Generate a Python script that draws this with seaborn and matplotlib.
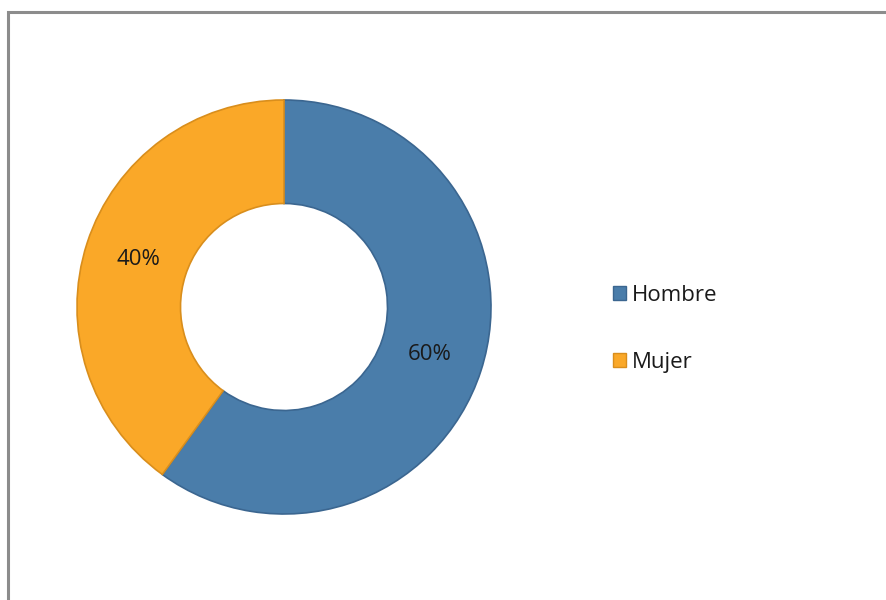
import matplotlib
matplotlib.use("Agg")
import matplotlib.pyplot as plt
from matplotlib.patches import Rectangle
import seaborn as sns

categories = ["Hombre", "Mujer"]
shares = [60, 40]
colors = ["#4A7DAA", "#FAA828"]
edge_colors = ["#3B6690", "#D98E1C"]

sns.set_theme(style="white")
plt.rcParams["font.family"] = ["Open Sans", "DejaVu Sans"]

W, H = 887, 600
fig = plt.figure(figsize=(W / 100, H / 100), dpi=100)
fig.patch.set_facecolor("white")

# Outer frame (top and left edges visible; right/bottom run past the canvas)
fig.patches.append(Rectangle((8.5 / W, -0.05), 1.2, 1 - 11.5 / H + 0.05,
                             transform=fig.transFigure, fill=False,
                             edgecolor="#8C8C8C", linewidth=2.2))

cx, cy, r = 284, 307, 207
ax = fig.add_axes([(cx - r) / W, (H - cy - r) / H, 2 * r / W, 2 * r / H])

wedges, texts, autotexts = ax.pie(
    shares, colors=colors, startangle=90, counterclock=False, radius=1,
    autopct=lambda p: f"{p:.0f}%", pctdistance=0.74,
    wedgeprops=dict(width=0.5, linewidth=1.2),
    textprops=dict(fontsize=16, color="#1A1A1A"),
)
for w, ec in zip(wedges, edge_colors):
    w.set_edgecolor(ec)

ax.set_xlim(-1, 1)
ax.set_ylim(-1, 1)
ax.set_aspect("equal")
ax.axis("off")

handles = [Rectangle((0, 0), 1, 1, facecolor=c, edgecolor=e, linewidth=1)
           for c, e in zip(colors, edge_colors)]
fig.legend(handles, categories, loc="center left",
           bbox_to_anchor=(593 / W, 1 - 329 / H), frameon=False,
           fontsize=16, handlelength=0.6, handleheight=0.6,
           handletextpad=0.25, labelspacing=2.05, labelcolor="#1A1A1A")

fig.savefig("out.png", dpi=100, facecolor="white")
